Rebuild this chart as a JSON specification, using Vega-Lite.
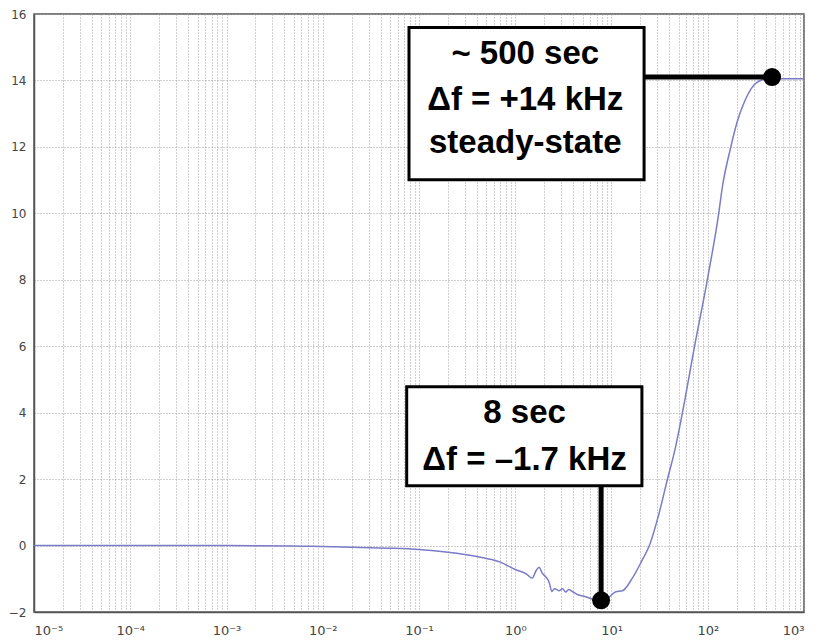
{
  "$schema": "https://vega.github.io/schema/vega-lite/v6.json",
  "width": 770,
  "height": 598,
  "autosize": {"type": "none"},
  "padding": {"left": 34, "top": 14, "right": 13, "bottom": 32},
  "config": {
    "view": {"stroke": "#555", "strokeWidth": 1.5},
    "axis": {
      "labelFont": "DejaVu Sans",
      "labelFontSize": 12,
      "labelColor": "#444",
      "domainColor": "#555",
      "domainWidth": 1.5,
      "gridColor": "#a0a0a0",
      "gridDash": [1, 2],
      "gridWidth": 1,
      "ticks": false,
      "title": null
    }
  },
  "encoding": {
    "x": {
      "field": "x",
      "type": "quantitative",
      "scale": {"type": "log", "domain": [0.00001, 1000], "nice": false},
      "axis": {
        "values": [0.00001,0.00002,0.00003,0.00004,0.00005,0.00006,0.00007,0.00008,0.00009,
                   0.0001,0.0002,0.0003,0.0004,0.0005,0.0006,0.0007,0.0008,0.0009,
                   0.001,0.002,0.003,0.004,0.005,0.006,0.007,0.008,0.009,
                   0.01,0.02,0.03,0.04,0.05,0.06,0.07,0.08,0.09,
                   0.1,0.2,0.3,0.4,0.5,0.6,0.7,0.8,0.9,
                   1,2,3,4,5,6,7,8,9,
                   10,20,30,40,50,60,70,80,90,
                   100,200,300,400,500,600,700,800,900,1000],
        "labelExpr": "abs(log(datum.value)/LN10 - round(log(datum.value)/LN10)) > 0.001 ? '' : '10' + (datum.value < 0.5 ? '⁻' : '') + ['⁰','¹','²','³','⁴','⁵'][abs(round(log(datum.value)/LN10))]",
        "labelOverlap": false,
        "labelPadding": 12,
        "labelFontSize": 13,
        "grid": true
      }
    },
    "y": {
      "field": "y",
      "type": "quantitative",
      "scale": {"domain": [-2, 16], "nice": false, "zero": false},
      "axis": {"values": [-2,0,2,4,6,8,10,12,14,16], "grid": true, "labelPadding": 8}
    }
  },
  "layer": [
    {
      "data": {"values": [
        {"x": 0.00001, "y": 0}, {"x": 0.0001, "y": 0}, {"x": 0.001, "y": 0},
        {"x": 0.005, "y": -0.01}, {"x": 0.01, "y": -0.03}, {"x": 0.02, "y": -0.05},
        {"x": 0.05, "y": -0.08}, {"x": 0.1, "y": -0.12}, {"x": 0.2, "y": -0.2},
        {"x": 0.4, "y": -0.33}, {"x": 0.7, "y": -0.5}, {"x": 1.0, "y": -0.72},
        {"x": 1.3, "y": -0.85}, {"x": 1.5, "y": -0.98}, {"x": 1.65, "y": -0.75},
        {"x": 1.77, "y": -0.65}, {"x": 1.9, "y": -0.82}, {"x": 2.07, "y": -0.94},
        {"x": 2.24, "y": -1.09}, {"x": 2.4, "y": -1.38}, {"x": 2.55, "y": -1.3},
        {"x": 2.85, "y": -1.36}, {"x": 3.1, "y": -1.3}, {"x": 3.34, "y": -1.4},
        {"x": 3.6, "y": -1.32}, {"x": 3.9, "y": -1.38}, {"x": 4.57, "y": -1.49},
        {"x": 5.37, "y": -1.54}, {"x": 6.3, "y": -1.61}, {"x": 7.6, "y": -1.65},
        {"x": 9, "y": -1.6}, {"x": 11.1, "y": -1.39}, {"x": 13, "y": -1.36},
        {"x": 16.4, "y": -0.99}, {"x": 20.9, "y": -0.43}, {"x": 24.5, "y": -0.03},
        {"x": 31.2, "y": 0.97}, {"x": 38, "y": 1.98}, {"x": 46.4, "y": 2.98},
        {"x": 54.4, "y": 3.98}, {"x": 73, "y": 6.0}, {"x": 99, "y": 8.0},
        {"x": 130, "y": 10.0}, {"x": 142, "y": 10.8}, {"x": 172, "y": 11.95},
        {"x": 202, "y": 12.75}, {"x": 240, "y": 13.35}, {"x": 290, "y": 13.8},
        {"x": 370, "y": 14.02}, {"x": 466, "y": 14.07},
        {"x": 600, "y": 14.05}, {"x": 1000, "y": 14.05}
      ]},
      "mark": {"type": "line", "color": "#7b7bc8", "strokeWidth": 1.5, "interpolate": "monotone"}
    },
    {
      "data": {"values": [
        {"x": 0.0787, "x2": 21.8, "y": 15.59, "y2": 11.01},
        {"x": 0.0745, "x2": 20.7, "y": 4.78, "y2": 1.80}
      ]},
      "mark": {"type": "rect", "fill": "white", "stroke": "black", "strokeWidth": 3},
      "encoding": {"x2": {"field": "x2"}, "y2": {"field": "y2"}}
    },
    {
      "data": {"values": [
        {"x": 21.8, "x2": 466, "y": 14.1, "y2": 14.1},
        {"x": 7.8, "x2": 7.8, "y": 1.80, "y2": -1.65}
      ]},
      "mark": {"type": "rule", "color": "black", "strokeWidth": 5},
      "encoding": {"x2": {"field": "x2"}, "y2": {"field": "y2"}}
    },
    {
      "data": {"values": [
        {"x": 466, "y": 14.1},
        {"x": 7.8, "y": -1.65}
      ]},
      "mark": {"type": "point", "shape": "circle", "filled": true, "color": "black", "opacity": 1, "size": 324}
    },
    {
      "data": {"values": [
        {"x": 1.27, "y": 14.48, "label": "~ 500 sec"},
        {"x": 1.27, "y": 13.12, "label": "Δf = +14 kHz"},
        {"x": 1.27, "y": 11.83, "label": "steady-state"},
        {"x": 1.25, "y": 3.70, "label": "8 sec"},
        {"x": 1.25, "y": 2.28, "label": "Δf = –1.7 kHz"}
      ]},
      "mark": {"type": "text", "font": "Liberation Sans", "fontWeight": "bold", "fontSize": 33, "align": "center", "baseline": "alphabetic", "color": "black"},
      "encoding": {"text": {"field": "label"}}
    }
  ]
}
